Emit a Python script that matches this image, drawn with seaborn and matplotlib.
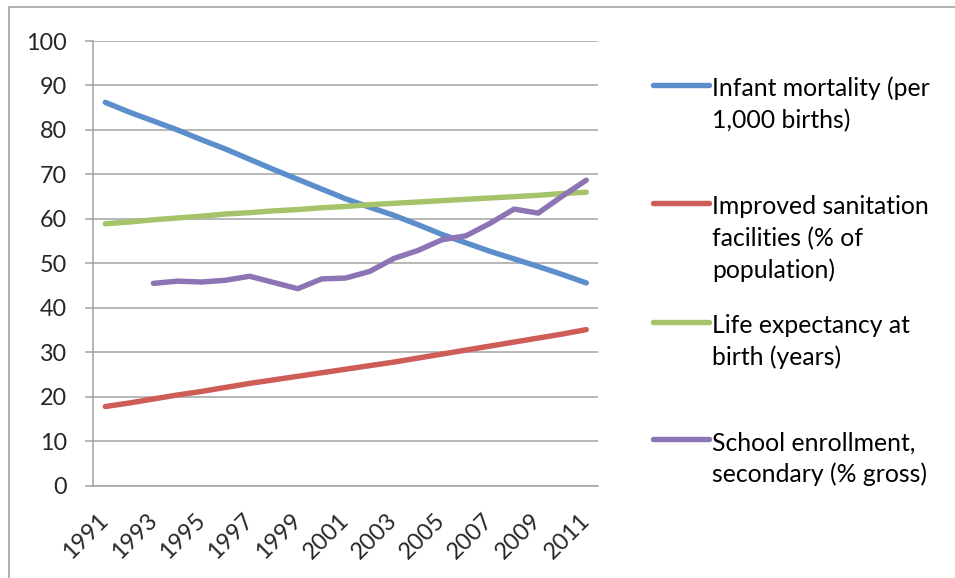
import numpy as np
import pandas as pd
import matplotlib
matplotlib.use("Agg")
import matplotlib.pyplot as plt
import seaborn as sns
from matplotlib.lines import Line2D
from matplotlib.patches import Rectangle

# ---------------- data ----------------
years = list(range(1991, 2012))
infant_mortality = [86.2, 84.0, 82.0, 80.0, 77.8, 75.7, 73.4, 71.1, 68.9, 66.7, 64.5,
                    62.6, 60.8, 58.7, 56.5, 54.6, 52.7, 51.0, 49.3, 47.5, 45.6]
sanitation = [17.8, 18.6, 19.5, 20.4, 21.2, 22.1, 23.0, 23.8, 24.6, 25.4, 26.2,
              27.0, 27.8, 28.7, 29.6, 30.5, 31.4, 32.3, 33.2, 34.1, 35.1]
life_expectancy = [58.9, 59.3, 59.8, 60.2, 60.6, 61.1, 61.4, 61.8, 62.1, 62.5, 62.8,
                   63.2, 63.5, 63.8, 64.1, 64.4, 64.7, 65.0, 65.3, 65.7, 66.0]
school_enrollment = [np.nan, np.nan, 45.5, 46.0, 45.8, 46.2, 47.1, 45.7, 44.3, 46.5, 46.7,
                     48.2, 51.1, 52.9, 55.3, 56.2, 59.0, 62.2, 61.3, 65.1, 68.7]
series_labels = ["Infant mortality (per\n1,000 births)",
                 "Improved sanitation\nfacilities (% of\npopulation)",
                 "Life expectancy at\nbirth (years)",
                 "School enrollment,\nsecondary (% gross)"]
colors = ["#5B8ECA", "#CE5D58", "#A5C36A", "#8D74B4"]
xtick_labels = [str(y) for y in years[::2]]
ytick_values = list(range(0, 101, 10))

# ---------------- style ----------------
sns.set_style("white")
plt.rcParams["font.family"] = ["Lato", "DejaVu Sans"]
FS_TICK = 16.8
FS_LEG = 17.8
GRID = "#A3A3A3"
LW = 3.9

W, H = 955, 578
fig = plt.figure(figsize=(W / 100, H / 100), dpi=100)
x0, x1, y_top, y_bot = 93.3, 598.3, 41.0, 485.7
ax = fig.add_axes([x0 / W, 1 - y_bot / H, (x1 - x0) / W, (y_bot - y_top) / H])

values = [infant_mortality, sanitation, life_expectancy, school_enrollment]
df = pd.DataFrame({
    "Year": years * len(values),
    "Value": [v for vals in values for v in vals],
    "Series": [lab for lab, vals in zip(series_labels, values) for _ in vals],
}).dropna()

sns.lineplot(data=df, x="Year", y="Value", hue="Series", hue_order=series_labels,
             palette=colors, linewidth=LW, legend=False, ax=ax,
             estimator=None, sort=False)
for ln in ax.lines:
    ln.set_solid_capstyle("round")
    ln.set_solid_joinstyle("round")

ax.set_xlim(1990.5, 2011.5)
ax.set_ylim(0, 100)
ax.set_xlabel("")
ax.set_ylabel("")

ax.set_yticks(ytick_values)
ax.set_yticklabels([str(v) for v in ytick_values], fontsize=FS_TICK)
ax.yaxis.grid(True, color=GRID, lw=1.1)
ax.xaxis.grid(False)
ax.set_axisbelow(True)

ax.set_xticks(years[::2])
ax.set_xticklabels(xtick_labels, rotation=45, ha="right", va="center",
                   rotation_mode="anchor", fontsize=FS_TICK)
ax.set_xticks(np.arange(1990.5, 2012, 1.0), minor=True)
ax.tick_params(axis="x", which="major", length=0, pad=22.5)
ax.tick_params(axis="x", which="minor", length=5.8, width=1.1, color=GRID, direction="out")
ax.tick_params(axis="y", which="major", length=5.8, width=1.1, color=GRID,
               direction="out", pad=13.0, left=True)

for s in ["top", "right"]:
    ax.spines[s].set_visible(False)
for s in ["left", "bottom"]:
    ax.spines[s].set_color(GRID)
    ax.spines[s].set_linewidth(1.1)

# ---------------- legend (Excel-style, handle aligned to first text line) ----------------
handle_y = [85.0, 203.3, 322.0, 439.3]
for lab, col, hy in zip(series_labels, colors, handle_y):
    fig.add_artist(Line2D([653 / W, 709 / W], [1 - hy / H, 1 - hy / H],
                          transform=fig.transFigure, color=col, lw=LW,
                          solid_capstyle="round"))
    for k, line in enumerate(lab.split("\n")):
        fig.text(712 / W, 1 - (hy + 11 + k * 31.8) / H, line, ha="left",
                 va="baseline", fontsize=FS_LEG, color="black")

# chart-area border
fig.add_artist(Rectangle((9 / W, -0.5), 2.0, 0.5 + (H - 7.3) / H,
                         transform=fig.transFigure, fill=False,
                         edgecolor="#9A9A9A", lw=1.1))

fig.savefig("out.png", dpi=100)
